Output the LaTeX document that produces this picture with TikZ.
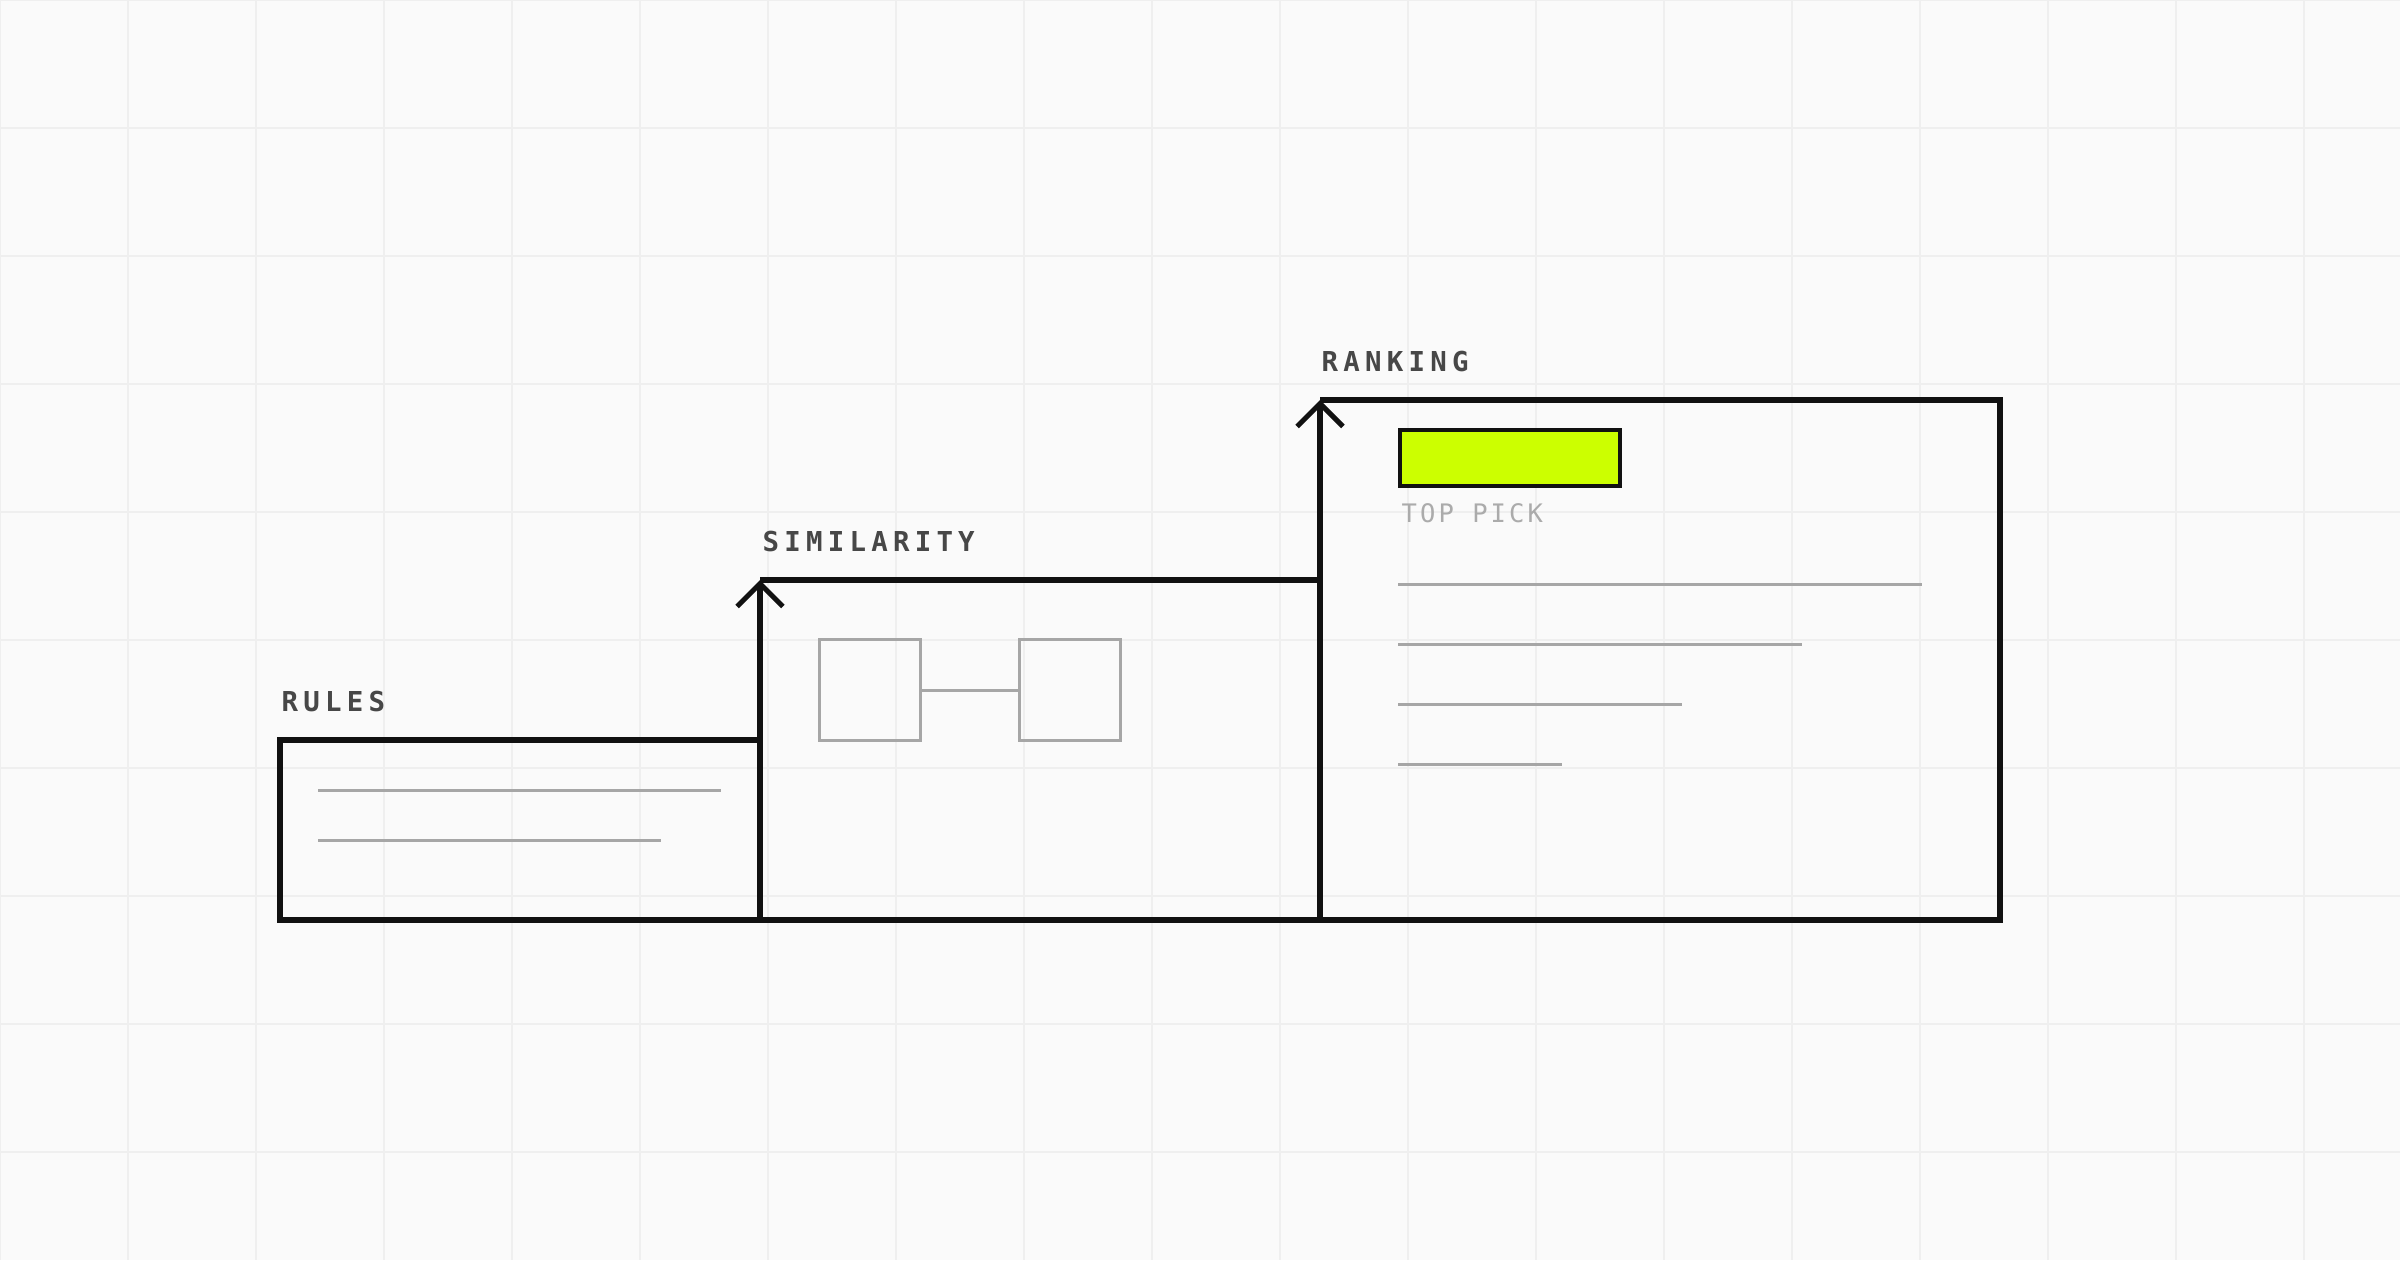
\documentclass[tikz,border=0pt]{standalone}
\usepackage{fontspec}
\usetikzlibrary{arrows.meta}
\newfontfamily\stagefont{DejaVu Sans Mono}[LetterSpace=19]
\newfontfamily\pickfont{DejaVu Sans Mono}[LetterSpace=12]
\definecolor{paper}{HTML}{FAFAFA}
\definecolor{gridgray}{HTML}{EFEFEF}
\definecolor{ink}{HTML}{111111}
\definecolor{labelgray}{HTML}{474747}
\definecolor{stubgray}{HTML}{A6A6A6}
\definecolor{pickgray}{HTML}{ABABAB}
\definecolor{lime}{HTML}{CCFF00}
\tikzset{>={Straight Barb[length=6.5pt,width=13pt]}}
\tikzset{
  gridline/.style={gridgray, line width=0.7pt},
  outline/.style={ink, line width=1.45pt},
  stub/.style={stubgray, line width=0.85pt},
  stagelabel/.style={anchor=base west, inner sep=0pt, text=labelgray,
    font=\stagefont\bfseries\fontsize{7.8}{9}\selectfont},
  itembox/.style={draw=stubgray, line width=0.85pt, minimum width=28.45pt, minimum height=28.45pt, inner sep=0pt},
  pickbox/.style={draw=ink, fill=lime, line width=1.1pt, minimum width=62.6pt, minimum height=15.9pt, inner sep=0pt}
}

\begin{document}
\begin{tikzpicture}[x=0.01cm, y=-0.01cm]
    \fill[paper] (0,0) rectangle (2400,1260);
    \useasboundingbox (0,0) rectangle (2400,1260);
    \foreach \gx in {0,128,...,2304} \draw[gridline] (\gx,0) -- (\gx,1260);
    \foreach \gy in {0,128,...,1152} \draw[gridline] (0,\gy) -- (2400,\gy);

    % stages
    \draw[outline] (760,740) -- (280,740) -- (280,920) -- (2000,920) -- (2000,400) -- (1320,400);
    \draw[outline, ->] (760,920) -- (760,580);
    \draw[outline] (760,580) -- (1320,580);
    \draw[outline, ->] (1320,920) -- (1320,400);

    \node[stagelabel] (rulesLabel) at (281,711) {RULES};
    \node[stagelabel] (simLabel) at (762,551) {SIMILARITY};
    \node[stagelabel] (rankLabel) at (1321,371) {RANKING};

    % rules
    \draw[stub] (318,790) -- (721,790);
    \draw[stub] (318,840) -- (661,840);

    % similarity
    \node[itembox] (itemA) at (870,690) {};
    \node[itembox] (itemB) at (1070,690) {};
    \draw[stub] (itemA) -- (itemB);

    % ranking
    \node[pickbox] (pick) at (1510,458) {};
    \node[anchor=base west, inner sep=0pt, text=pickgray, font=\pickfont\fontsize{7.25}{9}\selectfont] (pickLabel) at (1401,522) {TOP PICK};
    \draw[stub] (1398,584) -- (1922,584);
    \draw[stub] (1398,644) -- (1802,644);
    \draw[stub] (1398,704) -- (1682,704);
    \draw[stub] (1398,764) -- (1562,764);
\end{tikzpicture}
\end{document}
